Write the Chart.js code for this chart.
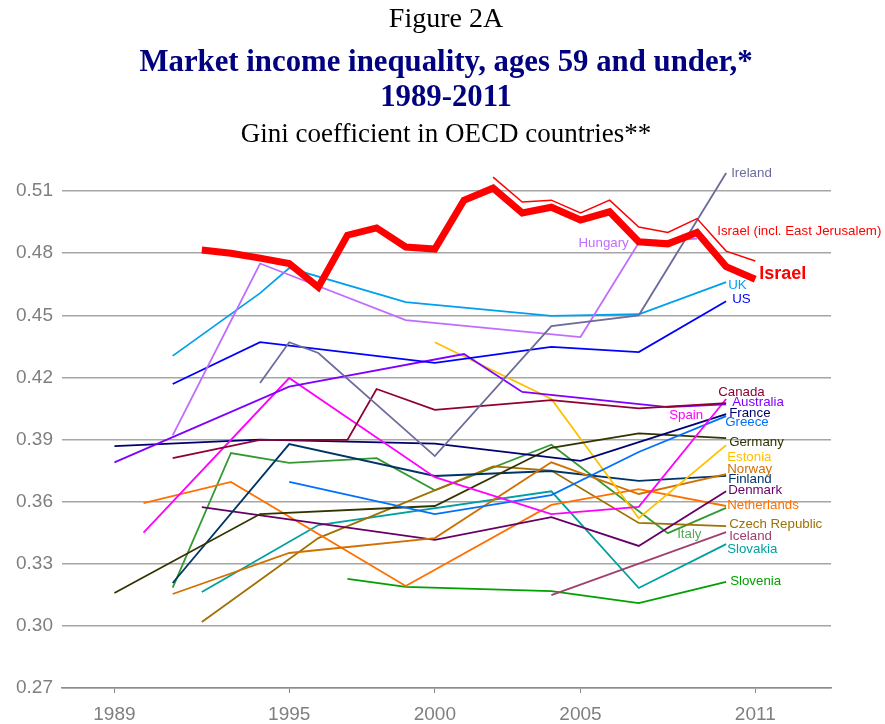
<!DOCTYPE html>
<html>
<head>
<meta charset="utf-8">
<title>Figure 2A</title>
<script src="https://cdn.jsdelivr.net/npm/chart.js@4.4.1/dist/chart.umd.min.js"></script>
<style>
  body { margin: 0; background: #fff; }
  .wrap { position: relative; width: 885px; height: 724px; }
  .wrap canvas { position: absolute; left: 0; top: 0; }
  .t { position: absolute; left: 0; width: 892px; text-align: center; line-height: 1; font-family: "Liberation Serif", "Times New Roman", serif; white-space: nowrap; }
  .fig { top: 4px; font-size: 28px; color: #000; }
  .main { font-size: 30.8px; font-weight: bold; color: #000080; }
  .sub { top: 120px; font-size: 27px; color: #000; }
</style>
</head>
<body>
<div class="wrap">
  <canvas id="chart" width="885" height="724"></canvas>
  <div class="t fig">Figure 2A</div>
  <div class="t main" style="top:46px">Market income inequality, ages 59 and under,*</div>
  <div class="t main" style="top:81px">1989-2011</div>
  <div class="t sub">Gini coefficient in OECD countries**</div>
</div>
<script>
// axis ticks
const xTicks = [1989, 1995, 2000, 2005, 2011];
const yTicks = [0.27, 0.30, 0.33, 0.36, 0.39, 0.42, 0.45, 0.48, 0.51];

// Gini values
const israelYears = [1992, 1993, 1994, 1995, 1996, 1997, 1998, 1999, 2000, 2001, 2002, 2003, 2004, 2005, 2006, 2007, 2008, 2009, 2010, 2011];
const israelGini = [0.4815, 0.480, 0.4776, 0.475, 0.4636, 0.4887, 0.4922, 0.483, 0.482, 0.5056, 0.5114, 0.4994, 0.5022, 0.496, 0.500, 0.4855, 0.4845, 0.490, 0.4735, 0.4674];
const israelEjYears = [2002, 2003, 2004, 2005, 2006, 2007, 2008, 2009, 2010, 2011];
const israelEjGini = [0.5167, 0.5047, 0.5056, 0.4994, 0.5056, 0.4926, 0.490, 0.4967, 0.481, 0.4762];
const irelandYears = [1994, 1995, 1996, 2000, 2004, 2007, 2010];
const irelandGini = [0.4173, 0.437, 0.4318, 0.382, 0.4448, 0.450, 0.5187];
const hungaryYears = [1991, 1994, 1999, 2005, 2007, 2009];
const hungaryGini = [0.392, 0.475, 0.4477, 0.4395, 0.485, 0.487];
const ukYears = [1991, 1994, 1995, 1999, 2004, 2007, 2010];
const ukGini = [0.4304, 0.4607, 0.4728, 0.4564, 0.4497, 0.4505, 0.466];
const usYears = [1991, 1994, 2000, 2004, 2007, 2010];
const usGini = [0.4168, 0.437, 0.427, 0.4347, 0.4322, 0.4568];
const canadaYears = [1991, 1994, 1997, 1998, 2000, 2004, 2007, 2010];
const canadaGini = [0.381, 0.3898, 0.3898, 0.4144, 0.4043, 0.409, 0.405, 0.4076];
const australiaYears = [1989, 1995, 2001, 2003, 2008, 2010];
const australiaGini = [0.379, 0.4155, 0.4313, 0.413, 0.4057, 0.407];
const spainYears = [1990, 1995, 2000, 2004, 2007, 2010];
const spainGini = [0.345, 0.4197, 0.3718, 0.354, 0.3575, 0.4096];
const franceYears = [1989, 1994, 2000, 2005, 2010];
const franceGini = [0.3868, 0.390, 0.388, 0.3797, 0.4023];
const greeceYears = [1995, 2000, 2004, 2007, 2010];
const greeceGini = [0.3695, 0.354, 0.3632, 0.384, 0.4013];
const germanyYears = [1989, 1994, 2000, 2004, 2007, 2010];
const germanyGini = [0.3159, 0.354, 0.3579, 0.386, 0.393, 0.3907];
const estoniaYears = [2000, 2004, 2007, 2010];
const estoniaGini = [0.437, 0.4096, 0.352, 0.3873];
const norwayYears = [1991, 1995, 2000, 2004, 2007, 2010];
const norwayGini = [0.3154, 0.3352, 0.3424, 0.379, 0.3637, 0.3733];
const finlandYears = [1991, 1995, 2000, 2004, 2007, 2010];
const finlandGini = [0.3207, 0.3878, 0.3724, 0.3748, 0.370, 0.3724];
const denmarkYears = [1992, 2000, 2004, 2007, 2010];
const denmarkGini = [0.3574, 0.3415, 0.3525, 0.3386, 0.365];
const netherlandsYears = [1990, 1993, 1999, 2004, 2007, 2010];
const netherlandsGini = [0.3593, 0.3695, 0.3193, 0.3584, 0.366, 0.3579];
const czechYears = [1992, 1996, 2002, 2004, 2007, 2010];
const czechGini = [0.3019, 0.3424, 0.377, 0.375, 0.3497, 0.3482];
const italyYears = [1991, 1993, 1995, 1998, 2000, 2004, 2008, 2010];
const italyGini = [0.3185, 0.3835, 0.3787, 0.381, 0.3655, 0.3875, 0.3448, 0.357];
const icelandYears = [2004, 2010];
const icelandGini = [0.3149, 0.3453];
const slovakiaYears = [1992, 1996, 2004, 2007, 2010];
const slovakiaGini = [0.3164, 0.3487, 0.365, 0.3183, 0.3395];
const sloveniaYears = [1997, 1999, 2004, 2007, 2010];
const sloveniaGini = [0.3227, 0.3188, 0.3168, 0.311, 0.3212];

// first entry is drawn on top
const series = [
  { name: 'Israel', years: israelYears, gini: israelGini, color: '#ff0000', width: 7 },
  { name: 'Israel (incl. East Jerusalem)', years: israelEjYears, gini: israelEjGini, color: '#ff0000', width: 1.5 },
  { name: 'Ireland', years: irelandYears, gini: irelandGini, color: '#6c6c9c' },
  { name: 'Hungary', years: hungaryYears, gini: hungaryGini, color: '#c06cff' },
  { name: 'UK', years: ukYears, gini: ukGini, color: '#00a0f0' },
  { name: 'US', years: usYears, gini: usGini, color: '#0000ff' },
  { name: 'Canada', years: canadaYears, gini: canadaGini, color: '#900030' },
  { name: 'Australia', years: australiaYears, gini: australiaGini, color: '#8000ff' },
  { name: 'Spain', years: spainYears, gini: spainGini, color: '#ff00ff' },
  { name: 'France', years: franceYears, gini: franceGini, color: '#000070' },
  { name: 'Greece', years: greeceYears, gini: greeceGini, color: '#0070ff' },
  { name: 'Germany', years: germanyYears, gini: germanyGini, color: '#333300' },
  { name: 'Estonia', years: estoniaYears, gini: estoniaGini, color: '#ffc000' },
  { name: 'Norway', years: norwayYears, gini: norwayGini, color: '#d07000' },
  { name: 'Finland', years: finlandYears, gini: finlandGini, color: '#003366' },
  { name: 'Denmark', years: denmarkYears, gini: denmarkGini, color: '#660066' },
  { name: 'Netherlands', years: netherlandsYears, gini: netherlandsGini, color: '#ff7000' },
  { name: 'Czech Republic', years: czechYears, gini: czechGini, color: '#a07000' },
  { name: 'Italy', years: italyYears, gini: italyGini, color: '#339933', text: '#55aa55' },
  { name: 'Iceland', years: icelandYears, gini: icelandGini, color: '#a04070' },
  { name: 'Slovakia', years: slovakiaYears, gini: slovakiaGini, color: '#00a0a0' },
  { name: 'Slovenia', years: sloveniaYears, gini: sloveniaGini, color: '#00a000' }
];

// where each name sits, relative to a point of its line (index, dx, dy)
const labelSpots = {
  'Israel': [-1, 4, -5, 'left', 'bold 18px'],
  'Israel (incl. East Jerusalem)': [-1, -38, -30],
  'Ireland': [-1, 5, 0],
  'Hungary': [4, -10, 1, 'right'],
  'UK': [-1, 2, 3],
  'US': [-1, 6, -2],
  'Canada': [-1, -8, -11],
  'Australia': [-1, 6, -2],
  'Spain': [-1, -23, 16, 'right'],
  'France': [-1, 3, -1],
  'Greece': [-1, -1, 6],
  'Germany': [-1, 3, 4],
  'Estonia': [-1, 1, 12],
  'Norway': [-1, 1, -5],
  'Finland': [-1, 2, 3],
  'Denmark': [-1, 2, -1],
  'Netherlands': [-1, 1, -1],
  'Czech Republic': [-1, 3, -2],
  'Italy': [-1, -49, 26],
  'Iceland': [-1, 3, 4],
  'Slovakia': [-1, 1, 5],
  'Slovenia': [-1, 4, -1]
};

const lineNames = {
  id: 'lineNames',
  afterDatasetsDraw(chart) {
    const ctx = chart.ctx;
    ctx.save();
    ctx.textBaseline = 'middle';
    chart.data.datasets.forEach((ds, i) => {
      const spot = labelSpots[ds.label];
      if (!spot) return;
      const pts = chart.getDatasetMeta(i).data;
      const p = pts[spot[0] < 0 ? pts.length + spot[0] : spot[0]];
      ctx.font = (spot[4] || '13.3px') + ' "Liberation Sans", Arial, sans-serif';
      ctx.textAlign = spot[3] || 'left';
      ctx.fillStyle = ds.textColor || ds.borderColor;
      ctx.fillText(ds.label, p.x + spot[1], p.y + spot[2]);
    });
    ctx.restore();
  }
};

new Chart(document.getElementById('chart'), {
  type: 'line',
  data: {
    datasets: series.map(s => ({
      label: s.name,
      data: s.years.map((y, k) => ({ x: y, y: s.gini[k] })),
      borderColor: s.color,
      textColor: s.text,
      borderWidth: s.width || 1.8,
      pointRadius: 0,
      tension: 0,
      fill: false
    }))
  },
  options: {
    responsive: false,
    animation: false,
    layout: { padding: { left: 0, right: 54, top: 160, bottom: 0 } },
    plugins: { legend: { display: false }, tooltip: { enabled: false } },
    scales: {
      x: {
        type: 'linear',
        min: 1987.2,
        max: 2013.6,
        afterBuildTicks: axis => { axis.ticks = xTicks.map(v => ({ value: v })); },
        afterFit: axis => { axis.height = 36; },
        border: { color: '#8c8c8c', width: 1.5 },
        grid: { drawOnChartArea: false, drawTicks: true, tickLength: 5, color: '#8c8c8c' },
        ticks: {
          color: '#7f7f7f',
          padding: 10,
          maxRotation: 0,
          font: { family: '"Liberation Sans", Arial, sans-serif', size: 19 },
          callback: v => String(v)
        }
      },
      y: {
        min: 0.27,
        max: 0.525,
        afterBuildTicks: axis => { axis.ticks = yTicks.map(v => ({ value: v })); },
        afterFit: axis => { axis.width = 62; },
        border: { display: false },
        grid: { color: '#a6a6a6', lineWidth: 1.5, drawTicks: false },
        ticks: {
          color: '#7f7f7f',
          padding: 9,
          font: { family: '"Liberation Sans", Arial, sans-serif', size: 19 },
          callback: v => v.toFixed(2)
        }
      }
    }
  },
  plugins: [lineNames]
});
</script>
</body>
</html>
